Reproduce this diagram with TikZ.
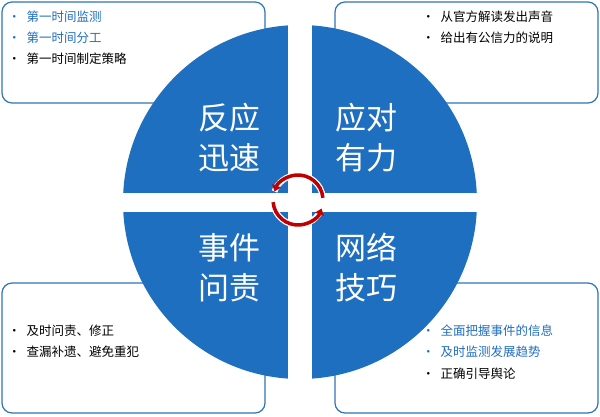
\documentclass[tikz,border=0pt]{standalone}
\usepackage{fontspec}
\setmainfont{Noto Sans CJK SC}
\usetikzlibrary{arrows.meta}
\definecolor{quadblue}{HTML}{1F6FC1}
\definecolor{framblue}{HTML}{2E75B6}
\definecolor{txtblue}{HTML}{1F6FC1}
\definecolor{arrred}{HTML}{C00000}
\tikzset{
  infobox/.style={draw=framblue,line width=1.2pt,fill=white,rounded corners=10pt},
  quadlabel/.style={text=white,font=\fontsize{31}{40}\selectfont,align=center},
  item/.style={anchor=west,font=\fontsize{12.5}{14}\selectfont,inner sep=0pt},
}
\newcommand{\bul}{\textbullet\hspace{6pt}}
\begin{document}
\begin{tikzpicture}[x=1pt,y=-1pt]
   \useasboundingbox (0,0) rectangle (600,417);
   % frames
   \draw[infobox] (2,2) rectangle (265,103);
   \draw[infobox] (335,2) rectangle (598,103);
   \draw[infobox] (2,283) rectangle (265,413);
   \draw[infobox] (335,283) rectangle (598,413);
   % circle and gaps
   \fill[quadblue] (300,202) circle (177);
   \fill[white] (288,20) rectangle (312,385);
   \fill[white] (118,193) rectangle (482,212);
   % labels
   \node[quadlabel] (fy) at (229,138) {反应\\迅速};
   \node[quadlabel] (yd) at (366,138) {应对\\有力};
   \node[quadlabel] (sj) at (229,268) {事件\\问责};
   \node[quadlabel] (wl) at (366,268) {网络\\技巧};
   % items
   \node[item,text=txtblue] (a1) at (8,17) {\bul 第一时间监测};
   \node[item,text=txtblue] (a2) at (8,38) {\bul 第一时间分工};
   \node[item] (a3) at (8,59) {\bul 第一时间制定策略};
   \node[item] (b1) at (422,17) {\bul 从官方解读发出声音};
   \node[item] (b2) at (422,38) {\bul 给出有公信力的说明};
   \node[item] (c1) at (8,331) {\bul 及时问责、修正};
   \node[item] (c2) at (8,352) {\bul 查漏补遗、避免重犯};
   \node[item,text=txtblue] (d1) at (422,331) {\bul 全面把握事件的信息};
   \node[item,text=txtblue] (d2) at (422,352) {\bul 及时监测发展趋势};
   \node[item] (d3) at (422,374) {\bul 正确引导舆论};
   % cycle arrows
   \coordinate (ctr) at (298,200);
   \foreach \s/\e in {175/20,355/200}{
     \draw[white,line width=6pt] ([shift={(\s:25)}]ctr) arc[start angle=\s,end angle=\e,radius=25];
     \draw[arrred,line width=3.5pt,-{Triangle[length=6pt,width=9pt]}] ([shift={(\s:25)}]ctr) arc[start angle=\s,end angle=\e,radius=25];
   }
\end{tikzpicture}
\end{document}
